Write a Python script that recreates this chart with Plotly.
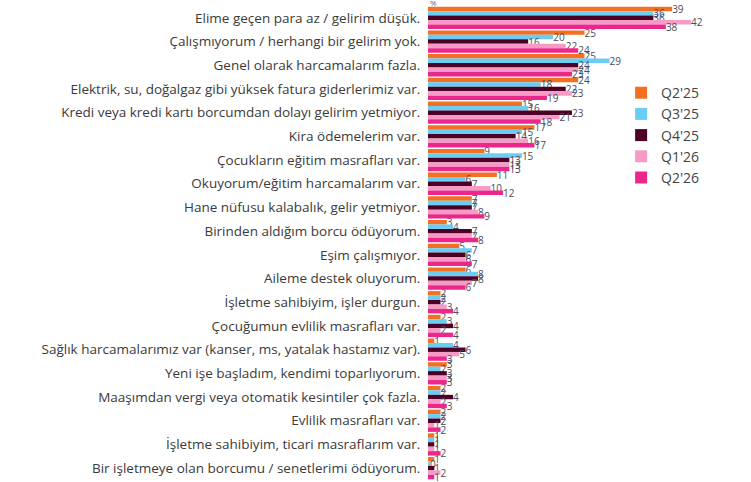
import plotly.graph_objects as go

categories = [
    "Elime geçen para az / gelirim düşük.",
    "Çalışmıyorum / herhangi bir gelirim yok.",
    "Genel olarak harcamalarım fazla.",
    "Elektrik, su, doğalgaz gibi yüksek fatura giderlerimiz var.",
    "Kredi veya kredi kartı borcumdan dolayı gelirim yetmiyor.",
    "Kira ödemelerim var.",
    "Çocukların eğitim masrafları var.",
    "Okuyorum/eğitim harcamalarım var.",
    "Hane nüfusu kalabalık, gelir yetmiyor.",
    "Birinden aldığım borcu ödüyorum.",
    "Eşim çalışmıyor.",
    "Aileme destek oluyorum.",
    "İşletme sahibiyim, işler durgun.",
    "Çocuğumun evlilik masrafları var.",
    "Sağlık harcamalarımız var (kanser, ms, yatalak hastamız var).",
    "Yeni işe başladım, kendimi toparlıyorum.",
    "Maaşımdan vergi veya otomatik kesintiler çok fazla.",
    "Evlilik masrafları var.",
    "İşletme sahibiyim, ticari masraflarım var.",
    "Bir işletmeye olan borcumu / senetlerimi ödüyorum.",
]

q2_25 = [39, 25, 25, 24, 15, 17, 9, 11, 7, 3, 5, 6, 2, 2, 1, 3, 2, 2, 1, 1]
q3_25 = [36, 20, 29, 18, 16, 15, 15, 6, 7, 4, 7, 8, 2, 3, 4, 2, 2, 2, 1, 0.3]
q4_25 = [36, 16, 24, 22, 23, 14, 13, 7, 7, 7, 6, 8, 2, 4, 6, 3, 4, 2, 1, 1]
q1_26 = [42, 22, 24, 23, 21, 16, 13, 10, 8, 7, 6, 7, 3, 2, 5, 3, 2, 1, 1, 2]
q2_26 = [38, 24, 23, 19, 18, 17, 13, 12, 9, 8, 7, 6, 4, 4, 3, 3, 3, 2, 2, 1]

series = [
    ("Q2'25", q2_25, "#F36F21"),
    ("Q3'25", q3_25, "#69CDF4"),
    ("Q4'25", q4_25, "#4C0026"),
    ("Q1'26", q1_26, "#F59BC5"),
    ("Q2'26", q2_26, "#EC278B"),
]

fig = go.Figure()
for name, vals, color in series:
    fig.add_trace(go.Bar(
        y=categories,
        x=vals,
        name=name,
        orientation="h",
        marker=dict(color=color, line=dict(width=0)),
        texttemplate="%{x:.0f}",
        textposition="outside",
        constraintext="none",
        cliponaxis=False,
        textfont=dict(size=10, color="#4a4a5a", family="Open Sans"),
    ))

# the "%" unit mark at the top, mostly cut by the edge
fig.add_annotation(
    text="%", xref="paper", yref="paper", x=0.0, y=1.0,
    xanchor="left", yanchor="bottom", yshift=-4, showarrow=False,
    font=dict(size=8, color="#666"),
)

fig.update_layout(
    width=751,
    height=482,
    barmode="group",
    bargap=0.06,
    bargroupgap=0,
    plot_bgcolor="white",
    paper_bgcolor="white",
    margin=dict(l=428, r=10, t=6, b=2),
    font=dict(family="Open Sans", size=13, color="#3a3a3a"),
    xaxis=dict(range=[0, 50], visible=False),
    yaxis=dict(
        range=[len(categories) - 0.5, -0.5],
        showgrid=False,
        showline=False,
        ticks="outside",
        ticklen=4,
        tickcolor="rgba(0,0,0,0)",
        automargin=False,
        tickfont=dict(size=13.5, color="#3a3a3a"),
    ),
    legend=dict(
        x=0.617, y=0.85, xanchor="left", yanchor="top",
        bgcolor="rgba(0,0,0,0)",
        font=dict(size=14, color="#444"),
        itemwidth=30,
        tracegroupgap=0,
    ),
    showlegend=True,
)

fig.write_html(
    "out.html",
    config={"displayModeBar": False},
    post_script="document.body.style.margin='0';",
)
